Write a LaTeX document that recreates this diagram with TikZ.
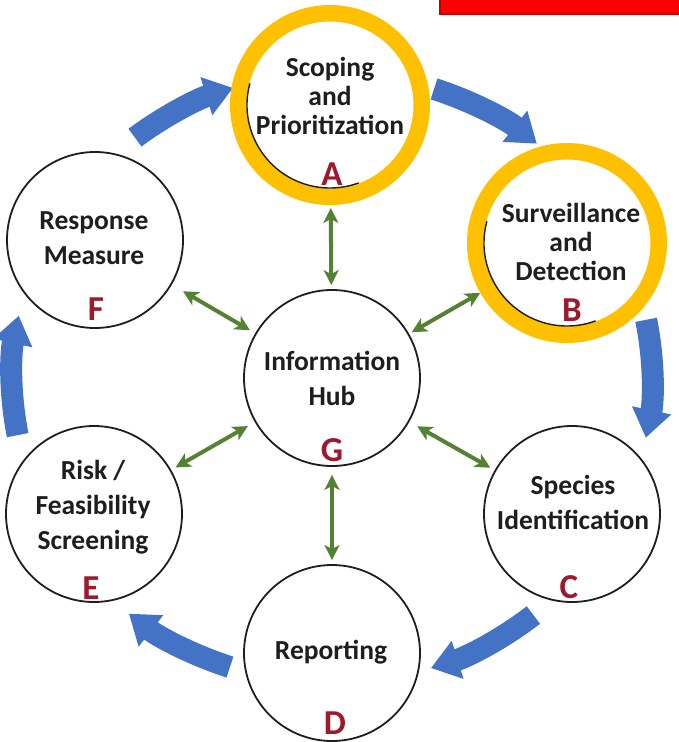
\documentclass[tikz,border=0pt]{standalone}
\usepackage{fontspec}
\setmainfont{Carlito}
\usetikzlibrary{arrows.meta}

\definecolor{ringgold}{RGB}{255,192,0}
\definecolor{cycleblue}{RGB}{68,114,196}
\definecolor{linkgreen}{RGB}{84,130,53}
\definecolor{tagred}{RGB}{155,27,45}
\definecolor{inkgray}{RGB}{30,30,30}
\definecolor{barred}{RGB}{255,0,0}
\definecolor{baredge}{RGB}{192,0,0}

\begin{document}
\begin{tikzpicture}[x=1pt,y=-1pt,
  stage/.style={circle, draw=inkgray, line width=1.8pt, fill=white,
    minimum size=176pt, inner sep=0pt},
  keystage/.style={circle, draw=ringgold, line width=16.5pt, fill=white,
    minimum size=183.5pt, inner sep=0pt},
  stagetext/.style={font=\bfseries\fontsize{27.5}{35}\selectfont, text=inkgray,
    align=center, inner sep=0pt},
  tighttext/.style={stagetext, font=\bfseries\fontsize{27.5}{29}\selectfont},
  stagetag/.style={font=\bfseries\fontsize{35}{35}\selectfont, text=tagred,
    inner sep=0pt},
  flowarrow/.style={line width=22pt, draw=cycleblue,
    -{Triangle[width=38pt,length=28pt]}},
  hublink/.style={line width=4pt, draw=linkgreen,
    {Stealth[length=15pt,width=15pt,inset=4pt]}-{Stealth[length=15pt,width=15pt,inset=4pt]}}
]
\useasboundingbox (0,0) rectangle (679,742);

% red bar in the top right corner
\draw[draw=baredge, fill=barred, line width=1.5pt] (440,-3) rectangle (682,14);

% blue cycle arrows around the hub
\coordinate (hubring) at (332,378);
\draw[flowarrow] ([shift={(128:320pt and 305pt)}]hubring)
  arc[start angle=128, end angle=108, x radius=320pt, y radius=305pt];
\draw[flowarrow] ([shift={(71.4:320pt and 305pt)}]hubring)
  arc[start angle=71.4, end angle=50.2, x radius=320pt, y radius=305pt];
\draw[flowarrow] ([shift={(11:320pt and 305pt)}]hubring)
  arc[start angle=11, end angle=-11.3, x radius=320pt, y radius=305pt];
\draw[flowarrow] ([shift={(-51:320pt and 305pt)}]hubring)
  arc[start angle=-51, end angle=-72, x radius=320pt, y radius=305pt];
\draw[flowarrow] ([shift={(-108.6:320pt and 305pt)}]hubring)
  arc[start angle=-108.6, end angle=-129.4, x radius=320pt, y radius=305pt];
\draw[flowarrow] ([shift={(190.8:320pt and 305pt)}]hubring)
  arc[start angle=190.8, end angle=168.2, x radius=320pt, y radius=305pt];

% stage circles
\node[keystage] (A) at (330,105) {};
\node[keystage] (B) at (567,243) {};
\node[stage] (F) at (95,240) {};
\node[stage] (G) at (332,378) {};
\node[stage] (E) at (94,514) {};
\node[stage] (C) at (572,514) {};
\node[stage] (D) at (332,653) {};

% thin dark edge inside the gold rings
\draw[inkgray, line width=1.4pt, line cap=round] ([shift={(165:83pt)}]A.center)
  arc[start angle=165, end angle=290, radius=83pt];
\draw[inkgray, line width=1.4pt, line cap=round] ([shift={(165:83pt)}]B.center)
  arc[start angle=165, end angle=290, radius=83pt];

% stage titles
\node[tighttext] (Atx) at (330,96) {Scoping\\and\\Prioritization};
\node[tighttext] (Btx) at (571,242) {Surveillance\\and\\Detection};
\node[stagetext] (Ftx) at (94,238) {Response\\Measure};
\node[stagetext] (Gtx) at (332,378) {Information\\Hub};
\node[stagetext] (Etx) at (93,507) {Risk /\\Feasibility\\Screening};
\node[stagetext] (Ctx) at (573,502) {Species\\Identification};
\node[stagetext] (Dtx) at (331,652) {Reporting};

% stage letters
\node[stagetag] (Atag) at (332,174) {A};
\node[stagetag] (Btag) at (572,310) {B};
\node[stagetag] (Ctag) at (569,587) {C};
\node[stagetag] (Dtag) at (335,723) {D};
\node[stagetag] (Etag) at (91,588) {E};
\node[stagetag] (Ftag) at (96,309) {F};
\node[stagetag] (Gtag) at (332,450) {G};

% two-way links to the information hub
\draw[hublink, shorten <=4pt, shorten >=3pt] (G) -- (A);
\draw[hublink, shorten <=3pt, shorten >=0pt] (G) -- (B);
\draw[hublink, shorten <=9pt, shorten >=5pt] (G) -- (C);
\draw[hublink, shorten <=8pt, shorten >=4pt] (G) -- (D);
\draw[hublink, shorten <=8pt, shorten >=5pt] (G) -- (E);
\draw[hublink, shorten <=6pt, shorten >=13pt] (G) -- (F);
\end{tikzpicture}
\end{document}
